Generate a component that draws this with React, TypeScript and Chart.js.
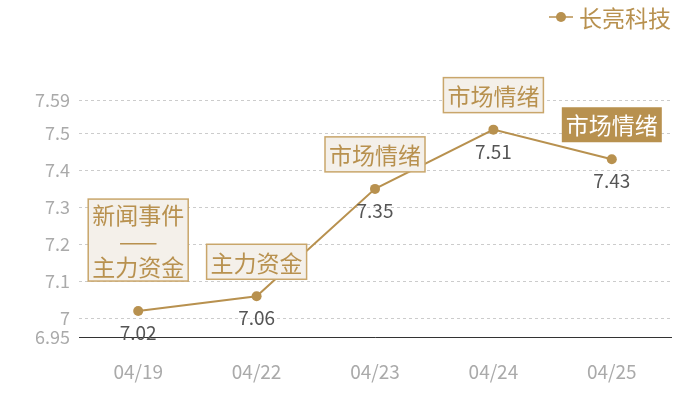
import React, { useEffect, useRef } from 'react';
import Chart from 'chart.js/auto';

const dates = ['04/19', '04/22', '04/23', '04/24', '04/25'];
const prices = [7.02, 7.06, 7.35, 7.51, 7.43];
const yTicks = [6.95, 7, 7.1, 7.2, 7.3, 7.4, 7.5, 7.59];
const notes = [['新闻事件', '——', '主力资金'], ['主力资金'], ['市场情绪'], ['市场情绪'], ['市场情绪']];
const highlighted = [false, false, false, false, true];
const seriesName = '长亮科技';

const GOLD = '#b8914f';
const FONT = '"Noto Sans CJK SC", "Noto Sans", sans-serif';

const notesPlugin = {
  id: 'notes',
  afterDatasetsDraw(chart: any) {
    const { ctx } = chart;
    const meta = chart.getDatasetMeta(0);
    ctx.save();
    ctx.textAlign = 'center';
    ctx.textBaseline = 'middle';
    meta.data.forEach((pt: any, i: number) => {
      const { x, y } = pt;
      // value under the point
      ctx.font = `19px ${FONT}`;
      ctx.fillStyle = '#555';
      ctx.fillText(String(prices[i]), x, y + 22);

      // note box above the point
      const lines = notes[i];
      ctx.font = `23px ${FONT}`;
      const multi = lines.length > 1;
      const w = Math.max(...lines.map((t) => ctx.measureText(t).width)) + 8;
      const lh = multi ? 26 : 35;
      const h = multi ? lines.length * lh + 4 : lh;
      const bottom = y - (multi ? 30 : 17);
      const left = x - w / 2;
      const top = bottom - h;
      ctx.fillStyle = highlighted[i] ? GOLD : '#f4f0ea';
      ctx.fillRect(left, top, w, h);
      if (!highlighted[i]) {
        ctx.strokeStyle = '#c9a66b';
        ctx.lineWidth = 1.5;
        ctx.strokeRect(left, top, w, h);
      }
      ctx.fillStyle = highlighted[i] ? '#fff' : GOLD;
      lines.forEach((t, k) => {
        ctx.fillText(t, x, top + (multi ? 2 : 0) + lh * (k + 0.5) + 1);
      });
    });
    ctx.restore();
  },
  afterDraw(chart: any) {
    const { ctx } = chart;
    ctx.save();
    ctx.strokeStyle = GOLD;
    ctx.lineWidth = 1.5;
    ctx.beginPath();
    ctx.moveTo(549, 17);
    ctx.lineTo(573, 17);
    ctx.stroke();
    ctx.fillStyle = GOLD;
    ctx.beginPath();
    ctx.arc(561, 17, 5, 0, Math.PI * 2);
    ctx.fill();
    ctx.font = `23px ${FONT}`;
    ctx.textAlign = 'left';
    ctx.textBaseline = 'middle';
    ctx.fillText(seriesName, 579, 18);
    ctx.restore();
  }
};

const App = () => {
  const chartRef = useRef<HTMLCanvasElement>(null);

  useEffect(() => {
    document.body.style.margin = '0';
    if (!chartRef.current) return;
    const chart = new Chart(chartRef.current, {
      type: 'line',
      data: {
        labels: dates,
        datasets: [
          {
            label: seriesName,
            data: prices,
            borderColor: GOLD,
            backgroundColor: GOLD,
            borderWidth: 2,
            pointRadius: 5,
            pointBorderWidth: 0,
            tension: 0
          }
        ]
      },
      options: {
        responsive: false,
        animation: false,
        layout: { padding: { top: 100, right: 29, left: 0, bottom: 0 } },
        plugins: {
          legend: { display: false },
          tooltip: { enabled: false }
        },
        scales: {
          x: {
            offset: true,
            grid: { display: false, drawTicks: false },
            border: { display: true, color: '#333', width: 1 },
            ticks: { color: '#aaa', font: { family: FONT, size: 19 }, padding: 23 },
            afterFit: (s: any) => {
              s.height = 63;
            }
          },
          y: {
            min: 6.95,
            max: 7.59,
            grid: { color: '#ccc', drawTicks: false },
            border: { display: false, dash: [3, 3] },
            ticks: {
              color: '#aaa',
              font: { family: FONT, size: 18 },
              padding: 9,
              callback: (v: any) => String(v)
            },
            afterBuildTicks: (s: any) => {
              s.ticks = yTicks.map((v) => ({ value: v }));
            },
            afterFit: (s: any) => {
              s.width = 79;
            }
          }
        }
      },
      plugins: [notesPlugin]
    });
    return () => {
      chart.destroy();
    };
  }, []);

  return (
    <div style={{ width: 700, height: 400 }}>
      <canvas ref={chartRef} width={700} height={400} />
    </div>
  );
};

export default App;
